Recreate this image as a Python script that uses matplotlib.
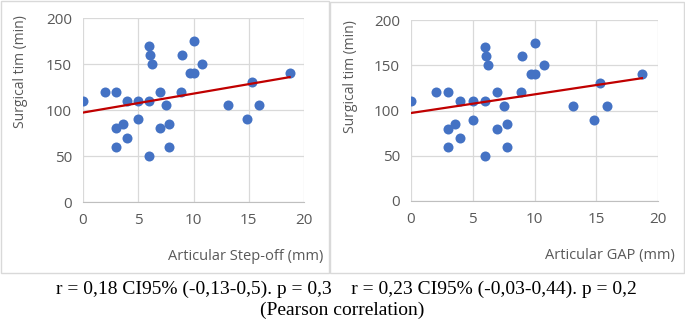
import numpy as np
import matplotlib
matplotlib.use("Agg")
import matplotlib.pyplot as plt
from matplotlib.patches import Rectangle

# values (same patients in both panels)
step_off = [0, 2, 3, 3, 3, 3.6, 4, 4, 5, 5, 6, 6.1, 6.2, 6, 6,
            7, 7, 7.5, 7.8, 7.8, 9, 8.9, 9.7, 10, 10, 10.8, 13.1, 14.8, 15.3, 15.9, 18.7]
gap = [0, 2, 3, 3, 3, 3.6, 4, 4, 5, 5, 6, 6.1, 6.2, 6, 6,
       7, 7, 7.5, 7.8, 7.8, 9, 8.9, 9.7, 10, 10, 10.8, 13.1, 14.8, 15.3, 15.9, 18.7]
surg_time = [110, 120, 120, 80, 60, 85, 110, 70, 110, 90, 170, 160, 150, 110, 50,
             120, 80, 105, 85, 60, 160, 120, 140, 140, 175, 150, 105, 90, 130, 105, 140]

x_ticks = [0, 5, 10, 15, 20]
y_ticks = [0, 50, 100, 150, 200]

W, H = 685, 321
blue = "#4472C4"
red = "#C00000"
grey_txt = "#595959"
font = ["Open Sans", "DejaVu Sans"]

fig = plt.figure(figsize=(W / 100, H / 100), dpi=100)

# panel frames
fig.patches.append(Rectangle((1 / W, 1 - 273 / H), 328 / W, 272 / H, transform=fig.transFigure,
                             fill=False, edgecolor="#D9D9D9", linewidth=1))
fig.patches.append(Rectangle((330 / W, 1 - 273 / H), 354 / W, 271 / H, transform=fig.transFigure,
                             fill=False, edgecolor="#D9D9D9", linewidth=1))


def panel(box, xs, xlabel, xlab_pos, ylab_pos):
    ax = fig.add_axes(box)
    ax.scatter(xs, surg_time, s=52, color=blue, zorder=3, linewidths=0)
    k, b = np.polyfit(xs, surg_time, 1)
    xx = np.array([min(xs), max(xs)])
    ax.plot(xx, k * xx + b, color=red, linewidth=1.6, zorder=4)
    ax.set_xlim(0, 20)
    ax.set_ylim(0, 200)
    ax.set_xticks(x_ticks)
    ax.set_yticks(y_ticks)
    ax.grid(True, color="#D9D9D9", linewidth=0.9)
    ax.set_axisbelow(True)
    for s in ["top", "right", "left"]:
        ax.spines[s].set_visible(False)
    ax.spines["bottom"].set_color("#BFBFBF")
    ax.tick_params(length=0, pad=8, labelsize=11, labelcolor=grey_txt)
    for lab in ax.get_xticklabels() + ax.get_yticklabels():
        lab.set_family(font)
    fig.text(xlab_pos[0] / W, 1 - xlab_pos[1] / H, xlabel, ha="right", va="center",
             fontsize=10.5, color=grey_txt, family=font)
    fig.text(ylab_pos[0] / W, 1 - ylab_pos[1] / H, "Surgical tim (min)", ha="center", va="center",
             rotation=90, fontsize=10, color=grey_txt, family=font)
    return ax


panel([83 / W, 1 - 202 / H, 221 / W, 184 / H], step_off, "Articular Step-off (mm)", (323, 256), (21, 72))
panel([411 / W, 1 - 201 / H, 247 / W, 181 / H], gap, "Articular GAP (mm)", (675, 256), (350, 77))

fig.text(346 / W, 1 - 289 / H,
         "r = 0,18 CI95% (-0,13-0,5). p = 0,3    r = 0,23 CI95% (-0,03-0,44). p = 0,2",
         ha="center", va="center", fontsize=14, family="Liberation Serif")
fig.text(342 / W, 1 - 310 / H, "(Pearson correlation)",
         ha="center", va="center", fontsize=14, family="Liberation Serif")

fig.savefig("out.png", dpi=100)
